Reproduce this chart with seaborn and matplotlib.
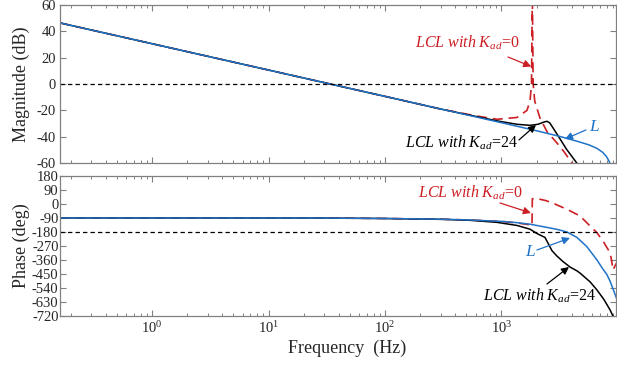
import numpy as np
import pandas as pd
import matplotlib
matplotlib.use("Agg")
import matplotlib.pyplot as plt
import seaborn as sns
from matplotlib.ticker import LogLocator, MultipleLocator, NullFormatter

# ---------------- data ----------------
# L : open loop (magnitude, dB)
freq_L_mag = [0.162, 100, 1000, 2000, 3162, 4467, 5623, 6607, 7413, 7943, 8318, 8610]
mag_L = [46.4, -9.4, -29.4, -35.5, -39.8, -43.5, -46.2, -48.9, -52.0, -55.0, -58.0, -61.0]

# LCL with Kad = 0 (magnitude, dB)
freq_K0_mag = [0.162, 100, 300, 600, 915, 1359, 1656, 1757, 1810, 1840, 1870, 1930, 2057,
               2140, 2459, 2994, 3438, 4027, 4500]
mag_K0 = [46.4, -9.4, -19.0, -24.2, -26.8, -25.4, -20.0, -13.0, 0.0, 70.0, 0.0, -13.0, -21.0,
          -25.8, -36.2, -44.8, -51.4, -60.0, -64.0]

# LCL with Kad = 24 (magnitude, dB)
freq_K24_mag = [0.162, 100, 300, 600, 915, 1359, 1757, 2057, 2300, 2459, 2600, 3070, 3600,
                4446, 4700]
mag_K24 = [46.4, -9.4, -19.0, -24.6, -28.0, -30.6, -31.4, -30.6, -29.0, -28.3, -29.6, -39.5,
           -49.3, -60.2, -63.0]

# L : phase (deg)
freq_L_ph = [0.162, 30, 100, 315, 537, 1009, 1359, 1757, 2362, 2995, 3648, 4447, 5420, 6607,
             7295, 8050, 8540, 9060, 9700]
ph_L = [-90, -90.5, -93, -98, -103, -112, -120, -130, -148, -163, -180, -215, -275, -360,
        -410, -455, -495, -545, -605]

# LCL with Kad = 0 : phase (deg)
freq_K0_ph = [0.162, 30, 100, 315, 537, 1009, 1359, 1757, 1828, 1840, 2057, 2400, 2712, 3648,
              4721, 5754, 6607, 7590, 8540, 8800, 9060, 9700]
ph_K0 = [-90, -90.5, -93, -98, -103, -112, -122, -134, -140, 34, 33, 22, 8, -34,
         -77, -141, -185, -249, -313, -360, -424, -380]

# LCL with Kad = 24 : phase (deg)
freq_K24_ph = [0.162, 30, 100, 315, 537, 915, 1359, 1757, 2018, 2362, 2712, 2995, 3373, 3873,
               4447, 4721, 5754, 6607, 7590, 8540, 9060, 9400]
ph_K24 = [-90, -90.5, -93.5, -99, -105, -118, -138, -162, -190, -215, -300, -335, -370, -405,
          -430, -444, -500, -553, -615, -680, -720, -760]

mag_ticks = [-60, -40, -20, 0, 20, 40, 60]
phase_ticks = [180, 90, 0, -90, -180, -270, -360, -450, -540, -630, -720]

# ---------------- style ----------------
sns.set_theme(style="ticks")
plt.rcParams["font.family"] = ["Liberation Serif", "DejaVu Serif"]
plt.rcParams["mathtext.fontset"] = "custom"
plt.rcParams["mathtext.rm"] = "Liberation Serif"
plt.rcParams["mathtext.it"] = "Liberation Serif:italic"
plt.rcParams["axes.unicode_minus"] = False

RED = "#cc1f24"
BLUE = "#1f72c6"
BLACK = "#000000"
GRAY = "#808080"

fig = plt.figure(figsize=(6.17, 3.73), dpi=100)
ax1 = fig.add_axes([0.0972, 0.5630, 0.9012, 0.4236])
ax2 = fig.add_axes([0.0972, 0.1528, 0.9012, 0.3754])

dash_red = (0, (6, 3.5))

# magnitude
sns.lineplot(x=freq_K0_mag, y=mag_K0, ax=ax1, color=RED, lw=1.2, linestyle=dash_red)
sns.lineplot(x=freq_K24_mag, y=mag_K24, ax=ax1, color=BLACK, lw=1.1)
sns.lineplot(x=freq_L_mag, y=mag_L, ax=ax1, color=BLUE, lw=1.1)
ax1.axhline(0, color=BLACK, lw=0.9, linestyle=(0, (3.5, 2.5)))

# phase
sns.lineplot(x=freq_K0_ph, y=ph_K0, ax=ax2, color=RED, lw=1.2, linestyle=dash_red)
sns.lineplot(x=freq_K24_ph, y=ph_K24, ax=ax2, color=BLACK, lw=1.1)
sns.lineplot(x=freq_L_ph, y=ph_L, ax=ax2, color=BLUE, lw=1.1)
ax2.axhline(-180, color=BLACK, lw=0.9, linestyle=(0, (3.5, 2.5)))

xmin, xmax = 0.162, 9620
for ax in (ax1, ax2):
    ax.set_xscale("log")
    ax.set_xlim(xmin, xmax)
    ax.xaxis.set_major_locator(LogLocator(base=10, numticks=12))
    ax.xaxis.set_minor_locator(LogLocator(base=10, subs=np.arange(2, 10), numticks=12))
    ax.xaxis.set_minor_formatter(NullFormatter())
    ax.tick_params(which="both", direction="in", top=True, right=True, color=GRAY,
                   labelsize=10.5, pad=3)
    ax.tick_params(which="major", length=4.5, width=0.8)
    ax.tick_params(which="minor", length=2.5, width=0.7)
    for sp in ax.spines.values():
        sp.set_color(GRAY)
        sp.set_linewidth(0.9)
    ax.grid(False)

ax1.set_ylim(-60, 60)
ax1.set_yticks(mag_ticks)
ax1.set_xticklabels([])
ax1.tick_params(axis="x", which="both", labelbottom=False)
ax2.set_ylim(-720, 180)
ax2.set_yticks(phase_ticks)
ax2.tick_params(axis="y", pad=1)

ax1.set_ylabel("Magnitude (dB)", fontsize=13)
ax2.set_ylabel("Phase (deg)", fontsize=13)
ax1.yaxis.set_label_coords(-0.054, 0.5)
ax2.yaxis.set_label_coords(-0.054, 0.5)
ax2.set_xlabel("Frequency  (Hz)", fontsize=13)
ax2.xaxis.set_label_coords(0.516, -0.17)

# ---------------- annotations ----------------
afs = 11.5
def note(ax, text, xy, xytext, color):
    ax.annotate(text, xy=xy, xytext=xytext, color=color, fontsize=afs,
                ha="center", va="center",
                arrowprops=dict(arrowstyle="-|>", color=color, lw=0.9,
                                mutation_scale=11, shrinkA=0, shrinkB=0))

def arrow(ax, xy, xytext, color):
    ax.annotate("", xy=xy, xytext=xytext,
                arrowprops=dict(arrowstyle="-|>", color=color, lw=0.9,
                                mutation_scale=11, shrinkA=0, shrinkB=0))

# magnitude panel
ax1.text(506, 31.1, r"$LCL\ with\ K_{ad}$=0", color=RED, fontsize=afs, ha="center", va="center")
arrow(ax1, (1800, 13.3), (1137, 20.5), RED)
ax1.text(449, -44.8, r"$LCL\ with\ K_{ad}$=24", color=BLACK, fontsize=afs, ha="center", va="center")
arrow(ax1, (1978, -31.1), (1413, -42.5), BLACK)
ax1.text(6300, -32.7, r"$L$", color=BLUE, fontsize=afs + 1, ha="center", va="center")
arrow(ax1, (3508, -41.8), (5311, -34.9), BLUE)

# phase panel
ax2.text(537, 70.7, r"$LCL\ with\ K_{ad}$=0", color=RED, fontsize=afs, ha="center", va="center")
arrow(ax2, (1791, -57.9), (971, 6.4), RED)
ax2.text(1791, -308, r"$L$", color=BLUE, fontsize=afs + 1, ha="center", va="center")
arrow(ax2, (3873, -218.6), (2018, -295.7), BLUE)
ax2.text(2140, -591, r"$LCL\ with\ K_{ad}$=24", color=BLACK, fontsize=afs, ha="center", va="center")
arrow(ax2, (3796, -405), (2459, -514), BLACK)

fig.savefig("out.png", dpi=100)
